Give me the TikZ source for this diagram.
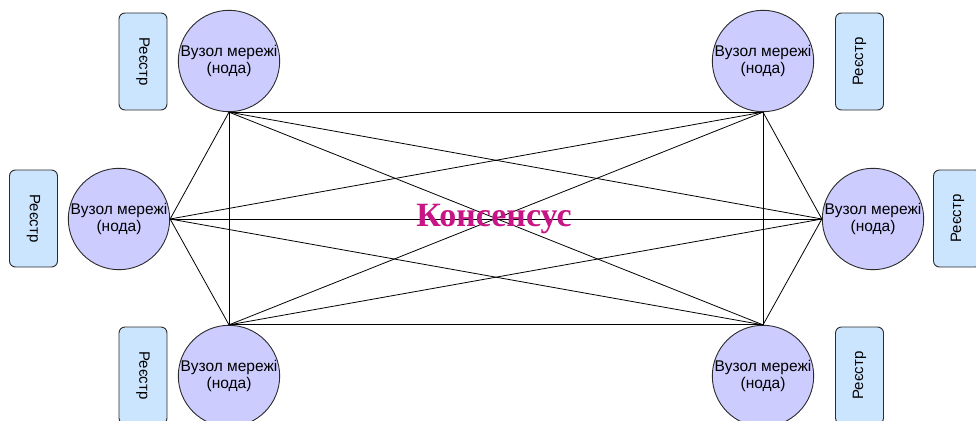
\documentclass[tikz,border=0pt]{standalone}
\usepackage{fontspec}
\setmainfont{Liberation Sans}
\newfontfamily\consfont{Liberation Serif}
\definecolor{nodefill}{HTML}{CCCCFF}
\definecolor{regfill}{HTML}{CCE5FF}
\definecolor{edgecol}{HTML}{2B2B2B}
\definecolor{conscol}{HTML}{C71585}
\tikzset{
  netnode/.style={circle, draw=edgecol, fill=nodefill, line width=0.9pt, minimum size=98pt, inner sep=0pt, align=center, font=\fontsize{15.5}{17}\selectfont},
  regbox/.style={rectangle, rounded corners=6pt, draw=edgecol, fill=regfill, line width=0.9pt, minimum width=48pt, minimum height=97pt, inner sep=0pt},
  regtext/.style={font=\fontsize{15}{17}\selectfont},
  link/.style={draw=black, line width=0.8pt}
}
\begin{document}
\begin{tikzpicture}[x=1pt,y=-1pt]
\useasboundingbox (0,0) rectangle (976,420);
% registers
\node[regbox] (rTL) at (143,61.5) {};
\node[regtext, rotate=-90] (tTL) at (rTL.center) {Реєстр};
\node[regbox] (rML) at (33.5,218.5) {};
\node[regtext, rotate=-90] (tML) at (rML.center) {Реєстр};
\node[regbox] (rBL) at (143,375.5) {};
\node[regtext, rotate=-90] (tBL) at (rBL.center) {Реєстр};
\node[regbox] (rTR) at (859.5,61.5) {};
\node[regtext, rotate=90] (tTR) at (rTR.center) {Реєстр};
\node[regbox] (rMR) at (957.5,218.5) {};
\node[regtext, rotate=90] (tMR) at (rMR.center) {Реєстр};
\node[regbox] (rBR) at (859.5,375.5) {};
\node[regtext, rotate=90] (tBR) at (rBR.center) {Реєстр};
% network nodes
\node[netnode] (TL) at (229,61) {Вузол мережі\\(нода)};
\node[netnode] (TR) at (763,61) {Вузол мережі\\(нода)};
\node[netnode] (ML) at (119,219) {Вузол мережі\\(нода)};
\node[netnode] (MR) at (873,219) {Вузол мережі\\(нода)};
\node[netnode] (BL) at (229,376) {Вузол мережі\\(нода)};
\node[netnode] (BR) at (763,376) {Вузол мережі\\(нода)};
% links (complete graph)
\draw[link] (TL.south) -- (TR.south);
\draw[link] (TL.south) -- (BL.north);
\draw[link] (TL.south) -- (BR.north);
\draw[link] (TL.south) -- (ML.east);
\draw[link] (TL.south) -- (MR.west);
\draw[link] (TR.south) -- (BR.north);
\draw[link] (TR.south) -- (BL.north);
\draw[link] (TR.south) -- (ML.east);
\draw[link] (TR.south) -- (MR.west);
\draw[link] (BL.north) -- (BR.north);
\draw[link] (BL.north) -- (ML.east);
\draw[link] (BL.north) -- (MR.west);
\draw[link] (BR.north) -- (ML.east);
\draw[link] (BR.north) -- (MR.west);
\draw[link] (ML.east) -- (MR.west);
% consensus label
\node[text=conscol, font=\consfont\bfseries\fontsize{34}{38}\selectfont] (cons) at (494,219) {Консенсус};
\end{tikzpicture}
\end{document}
